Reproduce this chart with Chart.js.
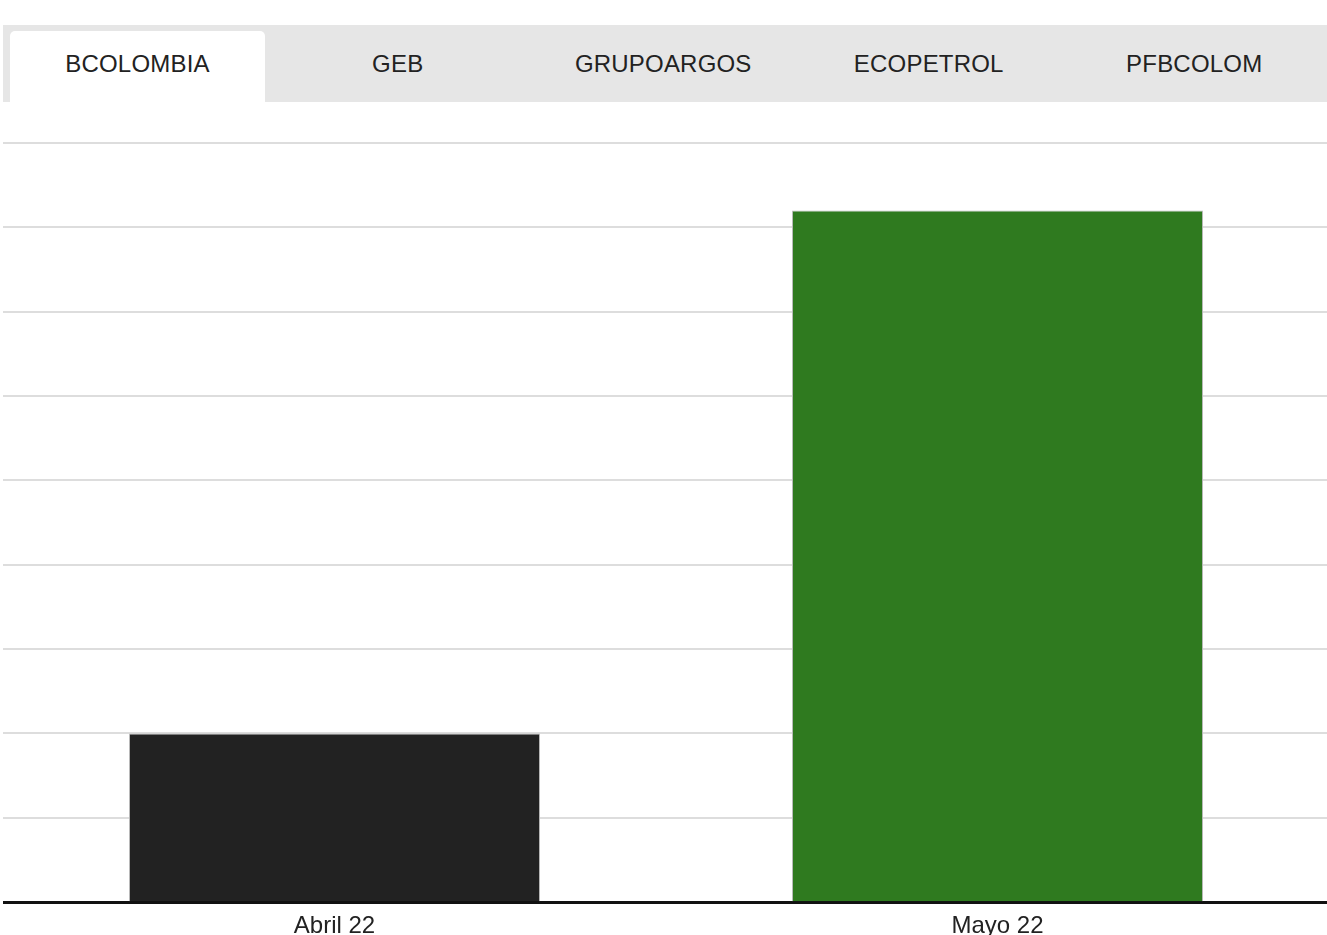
<!DOCTYPE html>
<html>
<head>
<meta charset="utf-8">
<script src="https://cdn.jsdelivr.net/npm/chart.js@4"></script>
<style>
  html, body { margin: 0; padding: 0; background: #fff; overflow: hidden; width: 1327px; height: 935px; }
  body { position: relative; font-family: "Liberation Sans", Arial, sans-serif; }
  .tabs { position: absolute; left: 3px; top: 25px; width: 1324px; height: 77px; background: #e6e6e6; display: flex; }
  .tab { flex: 1; text-align: center; font-size: 24px; color: #222; line-height: 24px; padding-top: 27px; letter-spacing: 0.2px; }
  .tab.active { background: #fff; margin: 6px 0 0 7px; padding-top: 21px; flex: 0 0 255px; border-radius: 5px 5px 0 0; }
  .chart-box { position: absolute; left: 3px; top: 133px; width: 1326px; height: 818px; }
</style>
</head>
<body>
<div class="tabs">
  <div class="tab active">BCOLOMBIA</div>
  <div class="tab">GEB</div>
  <div class="tab">GRUPOARGOS</div>
  <div class="tab">ECOPETROL</div>
  <div class="tab">PFBCOLOM</div>
</div>
<div class="chart-box"><canvas id="bar"></canvas></div>
<script>
(function() {
  "use strict";

  var meses = ["Abril 22", "Mayo 22"];
  var valores = [2.0, 8.2];
  var colores = ["#222222", "#2f7a1f"];
  var ejeMax = 9;

  var ctx = document.getElementById("bar").getContext("2d");
  new Chart(ctx, {
    type: "bar",
    data: {
      labels: meses,
      datasets: [{
        data: valores,
        backgroundColor: colores,
        borderColor: "#bbbbbb",
        borderWidth: 1,
        barPercentage: 0.62,
        categoryPercentage: 1
      }]
    },
    options: {
      responsive: true,
      maintainAspectRatio: false,
      animation: false,
      layout: { padding: { top: 10, left: 0, right: 0, bottom: 0 } },
      plugins: { legend: { display: false }, tooltip: { enabled: false } },
      scales: {
        x: {
          grid: { display: false, drawTicks: false },
          border: { color: "#111", width: 3 },
          ticks: { color: "#222", font: { family: "Liberation Sans", size: 24 }, padding: 10 }
        },
        y: {
          min: 0,
          max: ejeMax,
          ticks: { display: false, stepSize: 1 },
          grid: { color: "#dddddd", lineWidth: 2, drawTicks: false },
          border: { display: false }
        }
      }
    }
  });
})();
</script>
</body>
</html>
